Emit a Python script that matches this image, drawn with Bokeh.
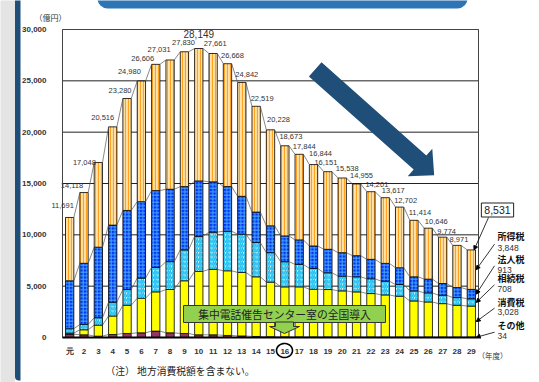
import numpy as np
from bokeh.plotting import figure
from bokeh.models import (Range1d, FixedTicker, Label, BoxAnnotation, PolyAnnotation,
                          Arrow, NormalHead, NumeralTickFormatter, ColumnDataSource)
from bokeh.embed import file_html
from bokeh.resources import INLINE
from bokeh.core.properties import value

# ---------------- data (億円) ----------------
years = ["元"] + [str(i) for i in range(2, 30)]
totals = [11691, 14118, 17048, 20516, 23280, 24980, 26606, 27031, 27830, 28149,
          27661, 26668, 24842, 22519, 20228, 18673, 17844, 16844, 16151, 15538,
          14955, 14201, 13617, 12702, 11414, 10646, 9774, 8971, 8531]
other = [330, 262, 130, 294, 392, 458, 621, 458, 392, 262, 262, 200, 150, 100, 70,
         60, 55, 50, 48, 45, 43, 42, 40, 39, 38, 37, 36, 35, 34]
consumption = [100, 490, 1080, 1800, 2747, 3368, 3826, 4218, 5134, 6178, 6373, 6300,
               6187, 5812, 5320, 4873, 4878, 4654, 4623, 4496, 4400, 4238, 4109, 3979,
               3523, 3426, 3264, 3101, 3028]
inheritance = [420, 523, 719, 1341, 1537, 1962, 2387, 2714, 3009, 3420, 3625, 3850,
               3725, 3333, 2875, 2450, 2189, 2026, 1634, 1437, 1470, 1437, 1339, 1143,
               980, 882, 816, 751, 708]
corporate = [4676, 5952, 6867, 7512, 7701, 7442, 7474, 7049, 6165, 5390, 4900, 4350,
             3691, 2972, 2613, 2515, 2384, 2188, 2286, 2287, 2058, 1895, 1732, 1634,
             1372, 1339, 1143, 980, 913]
income = [6165, 6891, 8252, 9569, 10903, 11750, 12298, 12592, 13130, 12899, 12501,
          11968, 11089, 10302, 9350, 8775, 8338, 7926, 7560, 7273, 6984, 6589, 6397,
          5907, 5501, 4962, 4515, 4104, 3848]
series_names = ["所得税", "法人税", "相続税", "消費税", "その他"]
yticks = [0, 5000, 10000, 15000, 20000, 25000, 30000]

# label offsets (px) for total labels (last year is shown in a box instead)
lab_dx = [-7, -12, -14, -10, -7, -12, -13, -11, -1, 0, 2, 5, 5, 6, 8, 6, 5, 7, -2, 5,
          5, 6, 8, 6, 6, 8, 4, 2]
lab_dy = [-12, -7, 0, -9, -8, -10, -6, -10, -9, -15, -10, -8, -8, -8, -10, -9, -8, -11,
          -9, -9, -8, -7, -7, -7, -8, -7, -6, -6]

W, H = 539, 382
FL, FR, FT, FB = 62, 478, 29, 337   # plot area in pixels
BAR_W = 0.58
n = len(years)

def dx(px):
    return 0.5 + (px - FL) / (FR - FL) * n

def dy(py):
    return (FB - py) / (FB - FT) * yticks[-1]

x = list(range(1, n + 1))
src = ColumnDataSource(dict(x=x, other=other, consumption=consumption,
                            inheritance=inheritance, corporate=corporate, income=income))

p = figure(width=W, height=H, output_backend="svg", toolbar_location=None,
           x_range=Range1d(dx(0), dx(W)), y_range=Range1d(dy(H), dy(0)),
           min_border=0, min_border_left=0, min_border_right=0, min_border_top=0,
           min_border_bottom=0)
p.background_fill_color = "white"
p.border_fill_color = "white"
p.outline_line_color = None
p.xgrid.visible = False
p.ygrid.visible = False

# left frame strip of the slide
p.add_layout(BoxAnnotation(left=dx(-5), right=dx(14.5), top=dy(-5), bottom=dy(390),
                           fill_color="#E4E4E4", fill_alpha=1, line_color=None, level="underlay"))
p.add_layout(BoxAnnotation(left=dx(14.5), right=dx(20), top=dy(-5), bottom=dy(380),
                           fill_color="#1F4E79", fill_alpha=1, line_color=None, level="underlay",
                           border_radius=dict(top_left=0, top_right=0, bottom_left=4, bottom_right=0)))
# top title box (cut off)
p.add_layout(BoxAnnotation(left=dx(97), right=dx(467), top=dy(-10), bottom=dy(8),
                           fill_color="#2E75B6", fill_alpha=1, line_color=None,
                           border_radius=dict(top_left=0, top_right=0, bottom_left=10, bottom_right=10)))

# grid lines (behind bars) and plot-area outline
p.segment(x0=0.5, x1=n + 0.5, y0=yticks[1:], y1=yticks[1:], line_color="#222222", line_width=1)
p.quad(left=0.5, right=n + 0.5, bottom=0, top=yticks[-1], fill_color=None,
       line_color="#444444", line_width=1)

stackers = ["other", "consumption", "inheritance", "corporate", "income"]
p.vbar_stack(stackers, x="x", width=BAR_W, source=src,
             fill_color=["#993366", "#FFFF00", "white", "#0036F0", "#FFE2A8"],
             hatch_pattern=[" ", " ", "/", "+", "|"],
             hatch_color=["#993366", "#FFFF00", "#1EC0F2", "#49A6FF", "#FFA01E"],
             hatch_scale=[4, 4, 4.5, 3.5, 3],
             hatch_weight=[1, 1, 1.8, 1, 1.2],
             line_color="black", line_width=0.8)

# series lines connecting the stacked tops between bars
cum = np.cumsum(np.array([other, consumption, inheritance, corporate, income]), axis=0)
xa = np.array(x, dtype=float)
for level in cum:
    p.segment(x0=xa[:-1] + BAR_W / 2, y0=level[:-1], x1=xa[1:] - BAR_W / 2, y1=level[1:],
              line_color="#555555", line_width=0.7)

# total labels
lab_src = ColumnDataSource(dict(x=x[:-1], y=totals[:-1], t=[f"{v:,}" for v in totals[:-1]],
                                xo=lab_dx, yo=lab_dy,
                                fs=["10px" if v == max(totals) else "7.5px" for v in totals[:-1]]))
p.text(x="x", y="y", text="t", x_offset="xo", y_offset="yo", source=lab_src,
       text_font=value("Liberation Sans"), text_font_size="fs", text_color="#333333",
       text_align="center", text_baseline="middle")

# big downward trend arrow
sx0, sy0 = 314.7, 68.8
bx, by = 419.5, 162.0
d = np.array([bx - sx0, by - sy0]); L = np.hypot(*d); u = d / L; nrm = np.array([-u[1], u[0]])
hw, hh, hl = 9.5, 18.5, 19.0
P0 = np.array([sx0, sy0]); B = np.array([bx, by]); T = B + u * hl
pts = [P0 + nrm * hw, B + nrm * hw, B + nrm * hh, T, B - nrm * hh, B - nrm * hw, P0 - nrm * hw]
p.add_layout(PolyAnnotation(xs=[dx(q[0]) for q in pts], ys=[dy(q[1]) for q in pts],
                            fill_color="#1F4E79", fill_alpha=1, line_color=None))

# green event box
p.add_layout(BoxAnnotation(left=dx(183), right=dx(385), top=dy(305), bottom=dy(322),
                           fill_color="#92D050", fill_alpha=1, line_color="#333333",
                           line_alpha=1, line_width=1))
p.add_layout(Label(x=dx(284), y=dy(313.5), text="集中電話催告センター室の全国導入",
                   text_font="Noto Sans CJK JP", text_font_size="10.8px", text_color="#222222",
                   text_align="center", text_baseline="middle"))
ax = [275, 293, 293, 299, 284, 269, 275]
ay = [321.5, 321.5, 326, 326, 333, 326, 326]
p.add_layout(PolyAnnotation(xs=[dx(v) for v in ax], ys=[dy(v) for v in ay],
                            fill_color="#92D050", fill_alpha=1, line_color="#333333",
                            line_alpha=1, line_width=1))
# circle around year 16
th = np.linspace(0, 2 * np.pi, 40)
p.add_layout(PolyAnnotation(xs=list(dx(284 + 8 * np.cos(th))), ys=list(dy(350 + 7 * np.sin(th))),
                            fill_alpha=0, line_color="black", line_alpha=1, line_width=1.6))

# axes (fixed at the plot-area edges)
p.yaxis.fixed_location = 0.5
p.yaxis.bounds = (0, yticks[-1])
p.yaxis.ticker = FixedTicker(ticks=yticks)
p.yaxis.formatter = NumeralTickFormatter(format="0,0")
p.yaxis.axis_line_color = None
p.yaxis.major_tick_line_color = None
p.yaxis.minor_tick_line_color = None
p.yaxis.major_label_standoff = 10
p.yaxis.major_label_text_font = "Liberation Sans"
p.yaxis.major_label_text_font_style = "bold"
p.yaxis.major_label_text_font_size = "8px"
p.yaxis.major_label_text_color = "#333333"

p.xaxis.fixed_location = 0
p.xaxis.bounds = (0.5, n + 0.5)
p.xaxis.ticker = FixedTicker(ticks=x)
p.xaxis.major_label_overrides = {i + 1: years[i] for i in range(n)}
p.xaxis.axis_line_color = "black"
p.xaxis.axis_line_width = 2
p.xaxis.major_tick_line_color = None
p.xaxis.minor_tick_line_color = None
p.xaxis.major_label_standoff = 3
p.xaxis.major_label_text_font = "Liberation Sans"
p.xaxis.major_label_text_font_style = "bold"
p.xaxis.major_label_text_font_size = "8px"
p.xaxis.major_label_text_color = "#333333"

# unit / notes
p.add_layout(Label(x=dx(50), y=dy(17), text="（億円）", text_font="Noto Sans CJK JP",
                   text_font_size="8px", text_color="#333333", text_align="center", text_baseline="middle"))
p.add_layout(Label(x=dx(492), y=dy(355), text="（年度）", text_font="Noto Sans CJK JP",
                   text_font_size="7.5px", text_color="#333333", text_align="center", text_baseline="middle"))
p.add_layout(Label(x=dx(105), y=dy(370), text="（注） 地方消費税額を含まない。", text_font="Noto Sans CJK JP",
                   text_font_size="9.8px", text_color="#222222", text_align="left", text_baseline="middle"))

# total of last year in a box
last = n
p.add_layout(Label(x=dx(497), y=dy(209.5), text=f"{totals[-1]:,}", text_font="Liberation Sans",
                   text_font_size="10.5px", text_color="#222222", text_align="center",
                   text_baseline="middle", border_line_color="#222222", border_line_width=1,
                   background_fill_color="white", padding=3))
p.add_layout(Arrow(x_start=dx(488), y_start=dy(217), x_end=last + BAR_W / 2 - 0.1, y_end=totals[-1],
                   line_width=0.8, end=NormalHead(size=4, fill_color="black", line_color="black")))

# right-side series legend with leaders
last_vals = [income[-1], corporate[-1], inheritance[-1], consumption[-1], other[-1]]
mids = [cum[4][-1] - income[-1] / 2, cum[3][-1] - corporate[-1] / 2, cum[2][-1] - inheritance[-1] / 2,
        cum[1][-1] - consumption[-1] / 2, cum[0][-1] / 2]
name_y = [235.7, 259.3, 278.3, 301.7, 325]
num_y = [247.7, 269.3, 288.3, 311.7, 335.7]
for nm, v, ny, vy, m in zip(series_names, last_vals, name_y, num_y, mids):
    p.add_layout(Label(x=dx(497), y=dy(ny), text=nm, text_font="Noto Sans CJK JP",
                       text_font_size="9px", text_font_style="bold", text_color="#111111",
                       text_align="left", text_baseline="middle"))
    p.add_layout(Label(x=dx(497), y=dy(vy), text=f"{v:,}", text_font="Liberation Sans",
                       text_font_size="8.5px", text_color="#333333",
                       text_align="left", text_baseline="middle"))
    p.add_layout(Arrow(x_start=dx(494), y_start=dy(vy - 4), x_end=last + BAR_W / 2 + 0.05, y_end=m,
                       line_width=0.8, end=NormalHead(size=4, fill_color="black", line_color="black")))

open("out.html", "w").write(file_html(p, INLINE))
